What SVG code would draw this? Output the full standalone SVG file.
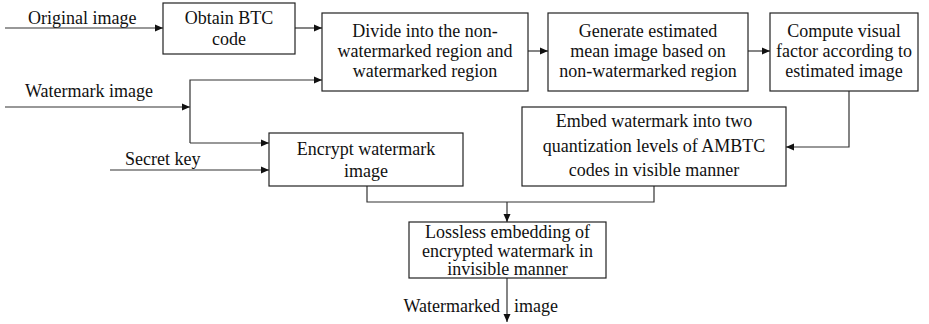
<svg xmlns="http://www.w3.org/2000/svg" width="929" height="324" viewBox="0 0 929 324">
<defs>
<marker id="ah" viewBox="0 0 8 8" refX="8" refY="4" markerWidth="8" markerHeight="8" markerUnits="userSpaceOnUse" orient="auto">
<path d="M0,0.5 L8,4 L0,7.5 Z" fill="#111"/>
</marker>
<style>
.box{fill:#fff;stroke:#222;stroke-width:1.2}
text{font-family:'Liberation Serif','Times New Roman',Times,'DejaVu Serif',serif;font-size:18px;fill:#111}
.t{text-anchor:middle}
.c{fill:none;stroke:#333;stroke-width:1.2}
.a{marker-end:url(#ah)}
</style>
</defs>
<rect width="929" height="324" fill="#fff"/>
<g id="connectors">
<path class="c a" d="M5,28 H163"/>
<path class="c a" d="M295,28 H322"/>
<path class="c a" d="M528,51 H548"/>
<path class="c a" d="M748,51 H770"/>
<path class="c a" d="M5,107 H190"/>
<path class="c a" d="M190,143 V80 H322"/>
<path class="c a" d="M190,143 H269"/>
<path class="c a" d="M110,170 H269"/>
<path class="c a" d="M849,91 V147 H786"/>
<path class="c" d="M367,186 V202 H654 V186"/>
<path class="c a" d="M507,202 V222"/>
<path class="c a" d="M507,278 V322"/>
<text font-family="Liberation Serif, serif" x="28" y="24">Original image</text>
<text font-family="Liberation Serif, serif" x="25" y="97">Watermark image</text>
<text font-family="Liberation Serif, serif" x="125" y="165">Secret key</text>
<text font-family="Liberation Serif, serif" x="500" y="312" text-anchor="end">Watermarked</text>
<text font-family="Liberation Serif, serif" x="514" y="312">image</text>
</g>
<g id="btc" font-family="Liberation Serif, serif">
<rect class="box" x="163" y="3" width="132" height="51"/>
<text class="t" x="229" y="24">Obtain BTC</text>
<text class="t" x="229" y="45">code</text>
</g>
<g id="divide">
<rect class="box" x="322" y="13" width="206" height="78"/>
<text class="t" x="425" y="37">Divide into the non-</text>
<text class="t" x="425" y="57">watermarked region and</text>
<text class="t" x="425" y="77">watermarked region</text>
</g>
<g id="generate">
<rect class="box" x="548" y="13" width="200" height="78"/>
<text class="t" x="648" y="37">Generate estimated</text>
<text class="t" x="648" y="57">mean image based on</text>
<text class="t" x="648" y="77">non-watermarked region</text>
</g>
<g id="compute">
<rect class="box" x="770" y="13" width="148" height="78"/>
<text class="t" x="844" y="37">Compute visual</text>
<text class="t" x="844" y="57">factor according to</text>
<text class="t" x="844" y="77">estimated image</text>
</g>
<g id="encrypt">
<rect class="box" x="269" y="133" width="194" height="53"/>
<text class="t" x="366" y="155">Encrypt watermark</text>
<text class="t" x="366" y="177">image</text>
</g>
<g id="embed">
<rect class="box" x="522" y="107" width="264" height="79"/>
<text class="t" x="654" y="127">Embed watermark into  two</text>
<text class="t" x="654" y="152">quantization levels of AMBTC</text>
<text class="t" x="654" y="176">codes in visible manner</text>
</g>
<g id="lossless">
<rect class="box" x="409" y="222" width="197" height="56"/>
<text class="t" x="507.5" y="238">Lossless embedding of</text>
<text class="t" x="507.5" y="257">encrypted watermark in</text>
<text class="t" x="507.5" y="275">invisible manner</text>
</g>
</svg>
